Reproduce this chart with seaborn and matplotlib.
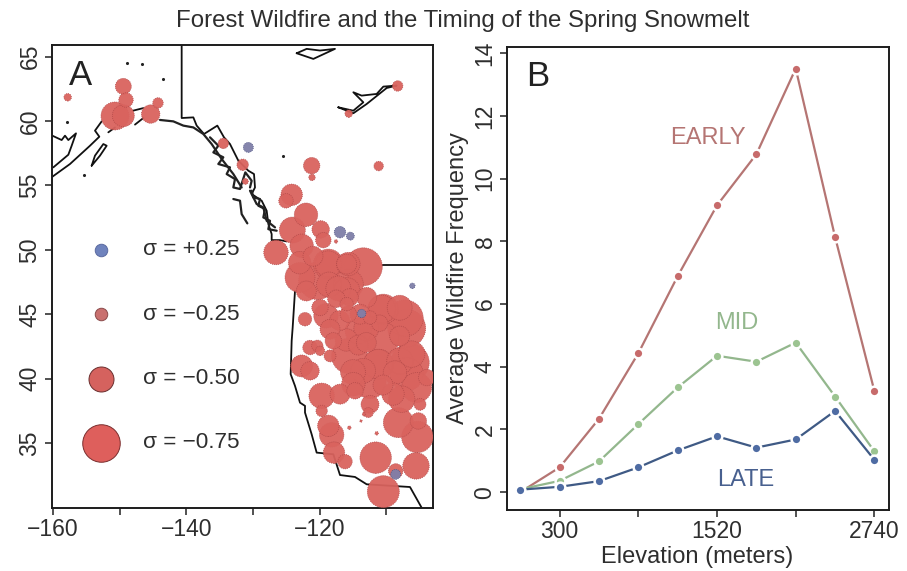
# Forest wildfire map and elevation profile
import pandas as pd
import matplotlib
matplotlib.use("Agg")
import matplotlib.pyplot as plt
import seaborn as sns

sns.set_style("ticks")
plt.rcParams["font.family"] = ["Liberation Sans", "DejaVu Sans"]

# Panel A: negative sigma sites
neg_lon = [-149.45, -149.05, -150.7, -149.45, -145.35, -144.25, -157.8, -108.3, -115.65, -134.45,
           -131.55, -131.15, -121.2, -121.15, -111.15, -124.2, -125.05, -122.05, -124.1, -122.7,
           -119.85, -119.45, -117.55, -126.55, -113.45, -120.35, -122.95, -118.7, -115.95, -115.95,
           -112.95, -110.45, -107.2, -106.95, -113.95, -122.2, -119.05, -119.95, -115.7, -115.95,
           -118.45, -114.2, -110.7, -115.55, -106.45, -106.2, -112.45, -114.95, -105.45, -107.95,
           -111.2, -121.45, -120.35, -119.95, -118.45, -122.7, -121.45, -119.7, -116.95, -114.7,
           -112.45, -112.7, -119.7, -118.7, -118.2, -117.85, -116.2, -107.7, -104.95, -108.2,
           -105.35, -105.2, -111.6, -105.55, -108.6, -110.45, -115.55, -113.8, -111.45, -113.35,
           -118.7, -115.7, -115.7, -110.7, -111.2, -108.7, -117.95, -112.45, -111.0, -106.95,
           -103.95, -114.2, -113.0, -117.2, -122.0, -123.0, -121.0, -118.6,
           -115.5, -117.5, -117.0, -113.0, -116.0, -115.0, -113.5, -109.0, -110.5, -108.0, -108.0]
neg_lat = [62.69, 61.63, 60.39, 60.41, 60.54, 61.4, 61.84, 62.72, 60.57, 58.26,
           56.6, 55.31, 56.53, 55.62, 56.5, 54.27, 53.8, 52.72, 51.53, 50.31,
           51.58, 50.75, 50.65, 49.79, 48.68, 47.59, 47.85, 48.89, 48.89, 46.81,
           46.3, 45.39, 44.69, 43.91, 45.0, 44.61, 44.87, 45.52, 45.0, 45.78,
           43.83, 43.7, 43.06, 41.76, 41.24, 41.9, 39.69, 39.56, 39.3, 41.37,
           41.11, 42.41, 42.54, 42.15, 41.76, 40.98, 40.6, 38.66, 38.79, 39.05,
           38.0, 37.36, 37.49, 36.33, 35.63, 34.25, 33.55, 38.4, 38.0, 36.58,
           35.47, 36.71, 33.86, 33.22, 32.83, 31.22, 36.19, 36.71, 35.75, 37.23,
           48.89, 47.33, 48.89, 45.39, 41.11, 40.47, 42.93, 44.74, 44.3, 40.34,
           40.08, 42.6, 42.8, 47.0, 46.8, 49.0, 49.5, 47.3,
           46.3, 46.2, 44.5, 43.9, 43.0, 40.5, 40.6, 38.8, 39.5, 43.3, 45.5]
neg_sigma = [-0.32, -0.29, -0.56, -0.44, -0.37, -0.21, -0.15, -0.21, -0.15, -0.21,
             -0.23, -0.12, -0.33, -0.13, -0.19, -0.43, -0.29, -0.47, -0.52, -0.47,
             -0.35, -0.31, -0.07, -0.49, -0.76, -0.75, -0.6, -0.53, -0.4, -0.53,
             -0.4, -0.6, -0.73, -0.76, -0.4, -0.27, -0.49, -0.33, -0.33, -0.27,
             -0.4, -0.53, -0.69, -0.71, -0.77, -0.53, -0.64, -0.47, -0.6, -0.53,
             -0.6, -0.29, -0.23, -0.19, -0.24, -0.44, -0.37, -0.51, -0.4, -0.33,
             -0.36, -0.2, -0.23, -0.43, -0.49, -0.43, -0.29, -0.53, -0.24, -0.6,
             -0.63, -0.33, -0.63, -0.53, -0.29, -0.64, -0.07, -0.05, -0.07, -0.07,
             -0.6, -0.6, -0.47, -0.56, -0.6, -0.47, -0.33, -0.27, -0.33, -0.67,
             -0.33, -0.4, -0.4, -0.5, -0.4, -0.45, -0.4, -0.5,
             -0.35, -0.35, -0.4, -0.5, -0.45, -0.5, -0.5, -0.45, -0.4, -0.4, -0.5]

# Panel A: positive sigma sites
pos_lon = [-130.7, -116.95, -115.4, -106.1, -108.6, -113.7]
pos_lat = [57.95, 51.37, 51.06, 47.2, 32.56, 45.05]
pos_sigma = [0.2, 0.23, 0.16, 0.11, 0.2, 0.17]

# Panel A: size key
key_lon = [-152.8, -152.8, -152.8, -152.8]
key_lat = [50, 45, 40, 35]
key_sigma = [0.25, -0.25, -0.5, -0.75]
key_labels = ["σ = +0.25", "σ = −0.25", "σ = −0.50", "σ = −0.75"]

# Panel A: coast and border lines as (lon, lat) lists
border_ak_lon = [-140.7, -140.7, -138.95, -138.45, -137.35, -135.35, -134.35, -133.45, -132.2, -130.7,
                 -129.85, -129.7, -130.2, -128.7, -127.95, -127.7, -127.2, -127.2, -125.95, -124.95]
border_ak_lat = [66, 60.23, 60.28, 59.64, 58.99, 59.64, 58.73, 58.21, 56.92, 56.14,
                 55.88, 54.84, 54.33, 53.81, 53.03, 52.0, 51.22, 50.75, 50.75, 50.65]
border_49_lon = [-110.7, -103]
border_49_lat = [48.83, 48.83]
us_coast_lon = [-123.7, -124.05, -124.2, -124.35, -123.7, -122.95, -122.2, -122.2, -121.2, -120.45,
                -117.95, -116.95, -114.7, -112.95, -106.45, -104.7]
us_coast_lat = [46.81, 43.96, 42.93, 40.34, 39.43, 38.13, 37.88, 37.36, 35.67, 34.25,
                34.12, 32.51, 32.36, 31.79, 31.58, 29.97]
ak_upper_lon = [-160.1, -158.7, -158.2, -157.7, -156.55, -157.2, -157.7, -159.95]
ak_upper_lat = [58.86, 58.52, 58.86, 58.52, 59.04, 58.08, 57.38, 56.4]
ak_lower_lon = [-160.1, -157.45, -154.45, -153.05, -153.7, -152.7]
ak_lower_lat = [55.67, 56.66, 58.08, 58.78, 59.25, 59.97]
gulf_lon = [-143.95, -141.95, -140.45, -138.95, -137.45, -136.2, -134.7, -132.95, -131.7]
gulf_lat = [60.08, 59.97, 59.64, 59.5, 58.99, 58.21, 57.05, 55.88, 54.84]
kodiak_lon = [-154.2, -153.7, -152.45, -151.95, -152.95, -154.2]
kodiak_lat = [56.53, 57.31, 58.21, 58.08, 57.31, 56.53]
inlet_lon = [-151.7, -150.7]
inlet_lat = [59.12, 59.5]
sound_lon = [-147.7, -146.45]
sound_lat = [59.72, 60.23]
sound2_lon = [-148.0, -146.45]
sound2_lat = [60.8, 61.0]
haida_lon = [-132.95, -131.95, -131.7, -130.85]
haida_lat = [53.94, 53.81, 52.77, 52.05]
bc_inner_lon = [-130.45, -129.45, -128.45, -127.95, -126.7]
bc_inner_lat = [54.59, 53.55, 53.29, 52.25, 51.74]
fjord_lon = [-136.45, -135.2, -135.95, -134.45, -135.2, -133.45, -133.95, -132.7, -132.95, -131.95, -131.15, -130.2, -130.45]
fjord_lat = [58.73, 58.08, 57.56, 57.18, 56.66, 56.4, 55.88, 55.49, 54.84, 54.72, 56.01, 55.36, 54.84]
fjord2_lon = [-130.2, -129.95, -128.95, -129.2, -128.2, -128.45, -127.45, -127.7, -126.45]
fjord2_lat = [54.59, 54.07, 53.94, 53.42, 53.16, 52.51, 52.25, 51.6, 51.48]
bear_lon = [-123.45, -120.95, -117.7, -119.95, -121.95, -123.45]
bear_lat = [65.26, 64.82, 65.6, 65.47, 65.6, 65.26]
slave_lon = [-117.2, -114.95, -113.45, -114.95, -113.7, -111.45, -110.45, -108.45, -109.95, -112.95, -114.95, -117.2]
slave_lat = [61.06, 60.8, 61.45, 62.23, 61.97, 62.1, 62.67, 62.75, 62.56, 61.32, 60.6, 61.06]
speck_lon = [-148.85, -146.7, -143.55, -157.95, -155.35, -125.55]
speck_lat = [64.48, 64.4, 63.26, 59.9, 55.83, 57.31]

# Panel B: elevation profile
elevation = [-5, 300, 605, 910, 1215, 1520, 1825, 2130, 2435, 2740]
early = [0.0, 0.79, 2.34, 4.43, 6.89, 9.15, 10.78, 13.51, 8.14, 3.22]
mid = [0.09, 0.36, 0.98, 2.17, 3.34, 4.35, 4.16, 4.77, 3.05, 1.3]
late = [0.08, 0.17, 0.35, 0.79, 1.33, 1.78, 1.42, 1.68, 2.59, 1.03]


def draw_sites(ax, lon, lat, sigma, color, edge):
    """Bubbles whose radius follows the size of sigma."""
    df = pd.DataFrame({"lon": lon, "lat": lat, "sigma": sigma})
    df["area"] = df["sigma"] ** 2
    df = df.sort_values("area", ascending=False)
    sns.scatterplot(data=df, x="lon", y="lat", size="area", size_norm=(0, 1), sizes=(0, 1296),
                    color=color, edgecolor=edge, linewidth=0.5, linestyle=(0, (1.5, 1.5)),
                    alpha=0.95, legend=False, zorder=3, ax=ax)


def style_axes(ax):
    for spine in ax.spines.values():
        spine.set_linewidth(1.4)
        spine.set_color("#1c1c1c")
    ax.tick_params(length=5, width=1.1, pad=2.5, labelsize=16.5, color="#222222", labelcolor="#2e2e2e")
    ax.set_xlabel("")
    ax.set_ylabel("")
    for lab in ax.get_yticklabels():
        lab.set_rotation(90)
        lab.set_va("center")


fig = plt.figure(figsize=(9.07, 5.71), dpi=100)
ax_a = fig.add_axes([52 / 907, 63 / 571, 381 / 907, 463 / 571])
ax_b = fig.add_axes([507 / 907, 61 / 571, 382 / 907, 463 / 571])

# Panel A
thin_lines = [(border_ak_lon, border_ak_lat), (border_49_lon, border_49_lat), (us_coast_lon, us_coast_lat),
              (ak_upper_lon, ak_upper_lat), (ak_lower_lon, ak_lower_lat), (kodiak_lon, kodiak_lat),
              (inlet_lon, inlet_lat), (sound_lon, sound_lat), (sound2_lon, sound2_lat),
              (bear_lon, bear_lat), (slave_lon, slave_lat)]
for lon, lat in thin_lines:
    sns.lineplot(x=lon, y=lat, sort=False, estimator=None, color="#111111", linewidth=1.3, zorder=1, ax=ax_a)
thick_lines = [(gulf_lon, gulf_lat), (haida_lon, haida_lat), (bc_inner_lon, bc_inner_lat),
               (fjord_lon, fjord_lat), (fjord2_lon, fjord2_lat)]
for lon, lat in thick_lines:
    sns.lineplot(x=lon, y=lat, sort=False, estimator=None, color="#222222", linewidth=1.6, zorder=1, ax=ax_a)
sns.scatterplot(x=speck_lon, y=speck_lat, color="#222222", s=5, linewidth=0, ax=ax_a)

draw_sites(ax_a, neg_lon, neg_lat, neg_sigma, "#D9635E", "#B04848")
draw_sites(ax_a, pos_lon, pos_lat, pos_sigma, "#7F7FA8", "#4A5080")
key_colors = ["#6F83BD", "#C9706F", "#D5625E", "#DE5F5C"]
key_edges = ["#5A6AA0", "#8A4A4A", "#6A2E2E", "#7A2E2E"]
for lon, lat, sig, col, edge, txt in zip(key_lon, key_lat, key_sigma, key_colors, key_edges, key_labels):
    sns.scatterplot(x=[lon], y=[lat], s=1296 * sig ** 2, color=col, edgecolor=edge,
                    linewidth=0.7, zorder=3, legend=False, ax=ax_a)
    ax_a.text(-146.55, lat, txt, fontsize=16.2, color="#2e2e2e", va="center", ha="left")

ax_a.text(-155.8, 63.55, "A", fontsize=25, color="#222222", ha="center", va="center")
ax_a.set_xlim(-160.15, -103)
ax_a.set_ylim(29.95, 65.9)
ax_a.set_xticks([-160, -150, -140, -130, -120, -110])
ax_a.set_xticklabels(["−160", "", "−140", "", "−120", ""])
ax_a.set_yticks([35, 40, 45, 50, 55, 60, 65])
style_axes(ax_a)

# Panel B
series = [(early, "#B57573", "#C76B6B"), (mid, "#93B78D", "#9CC491"), (late, "#3F5A85", "#4F6CA3")]
for values, line_col, dot_col in series:
    sns.lineplot(x=elevation, y=values, color=line_col, linewidth=1.6, marker="o", markersize=7,
                 markerfacecolor=dot_col, markeredgecolor="white", markeredgewidth=1.8, ax=ax_b)

ax_b.text(1447, 11.3, "EARLY", fontsize=17, color="#B57573", ha="center", va="center")
ax_b.text(1669, 5.39, "MID", fontsize=17, color="#93B78D", ha="center", va="center")
ax_b.text(1746, 0.4, "LATE", fontsize=17, color="#48608F", ha="center", va="center")
ax_b.text(132, 13.25, "B", fontsize=25, color="#222222", ha="center", va="center")
ax_b.set_xlim(-108, 2853)
ax_b.set_ylim(-0.57, 14.2)
ax_b.set_xticks([300, 910, 1520, 2130, 2740])
ax_b.set_xticklabels(["300", "", "1520", "", "2740"])
ax_b.set_yticks([0, 2, 4, 6, 8, 10, 12, 14])
style_axes(ax_b)

fig.text(697 / 907, 14 / 571, "Elevation (meters)", fontsize=17, color="#2e2e2e", ha="center", va="center")
fig.text(458 / 907, 293 / 571, "Average Wildfire Frequency", fontsize=17, color="#2e2e2e",
         rotation=90, ha="center", va="center")
fig.text(463 / 907, 550 / 571, "Forest Wildfire and the Timing of the Spring Snowmelt", fontsize=17.3,
         color="#2e2e2e", ha="center", va="center")

fig.savefig("out.png", dpi=100)
